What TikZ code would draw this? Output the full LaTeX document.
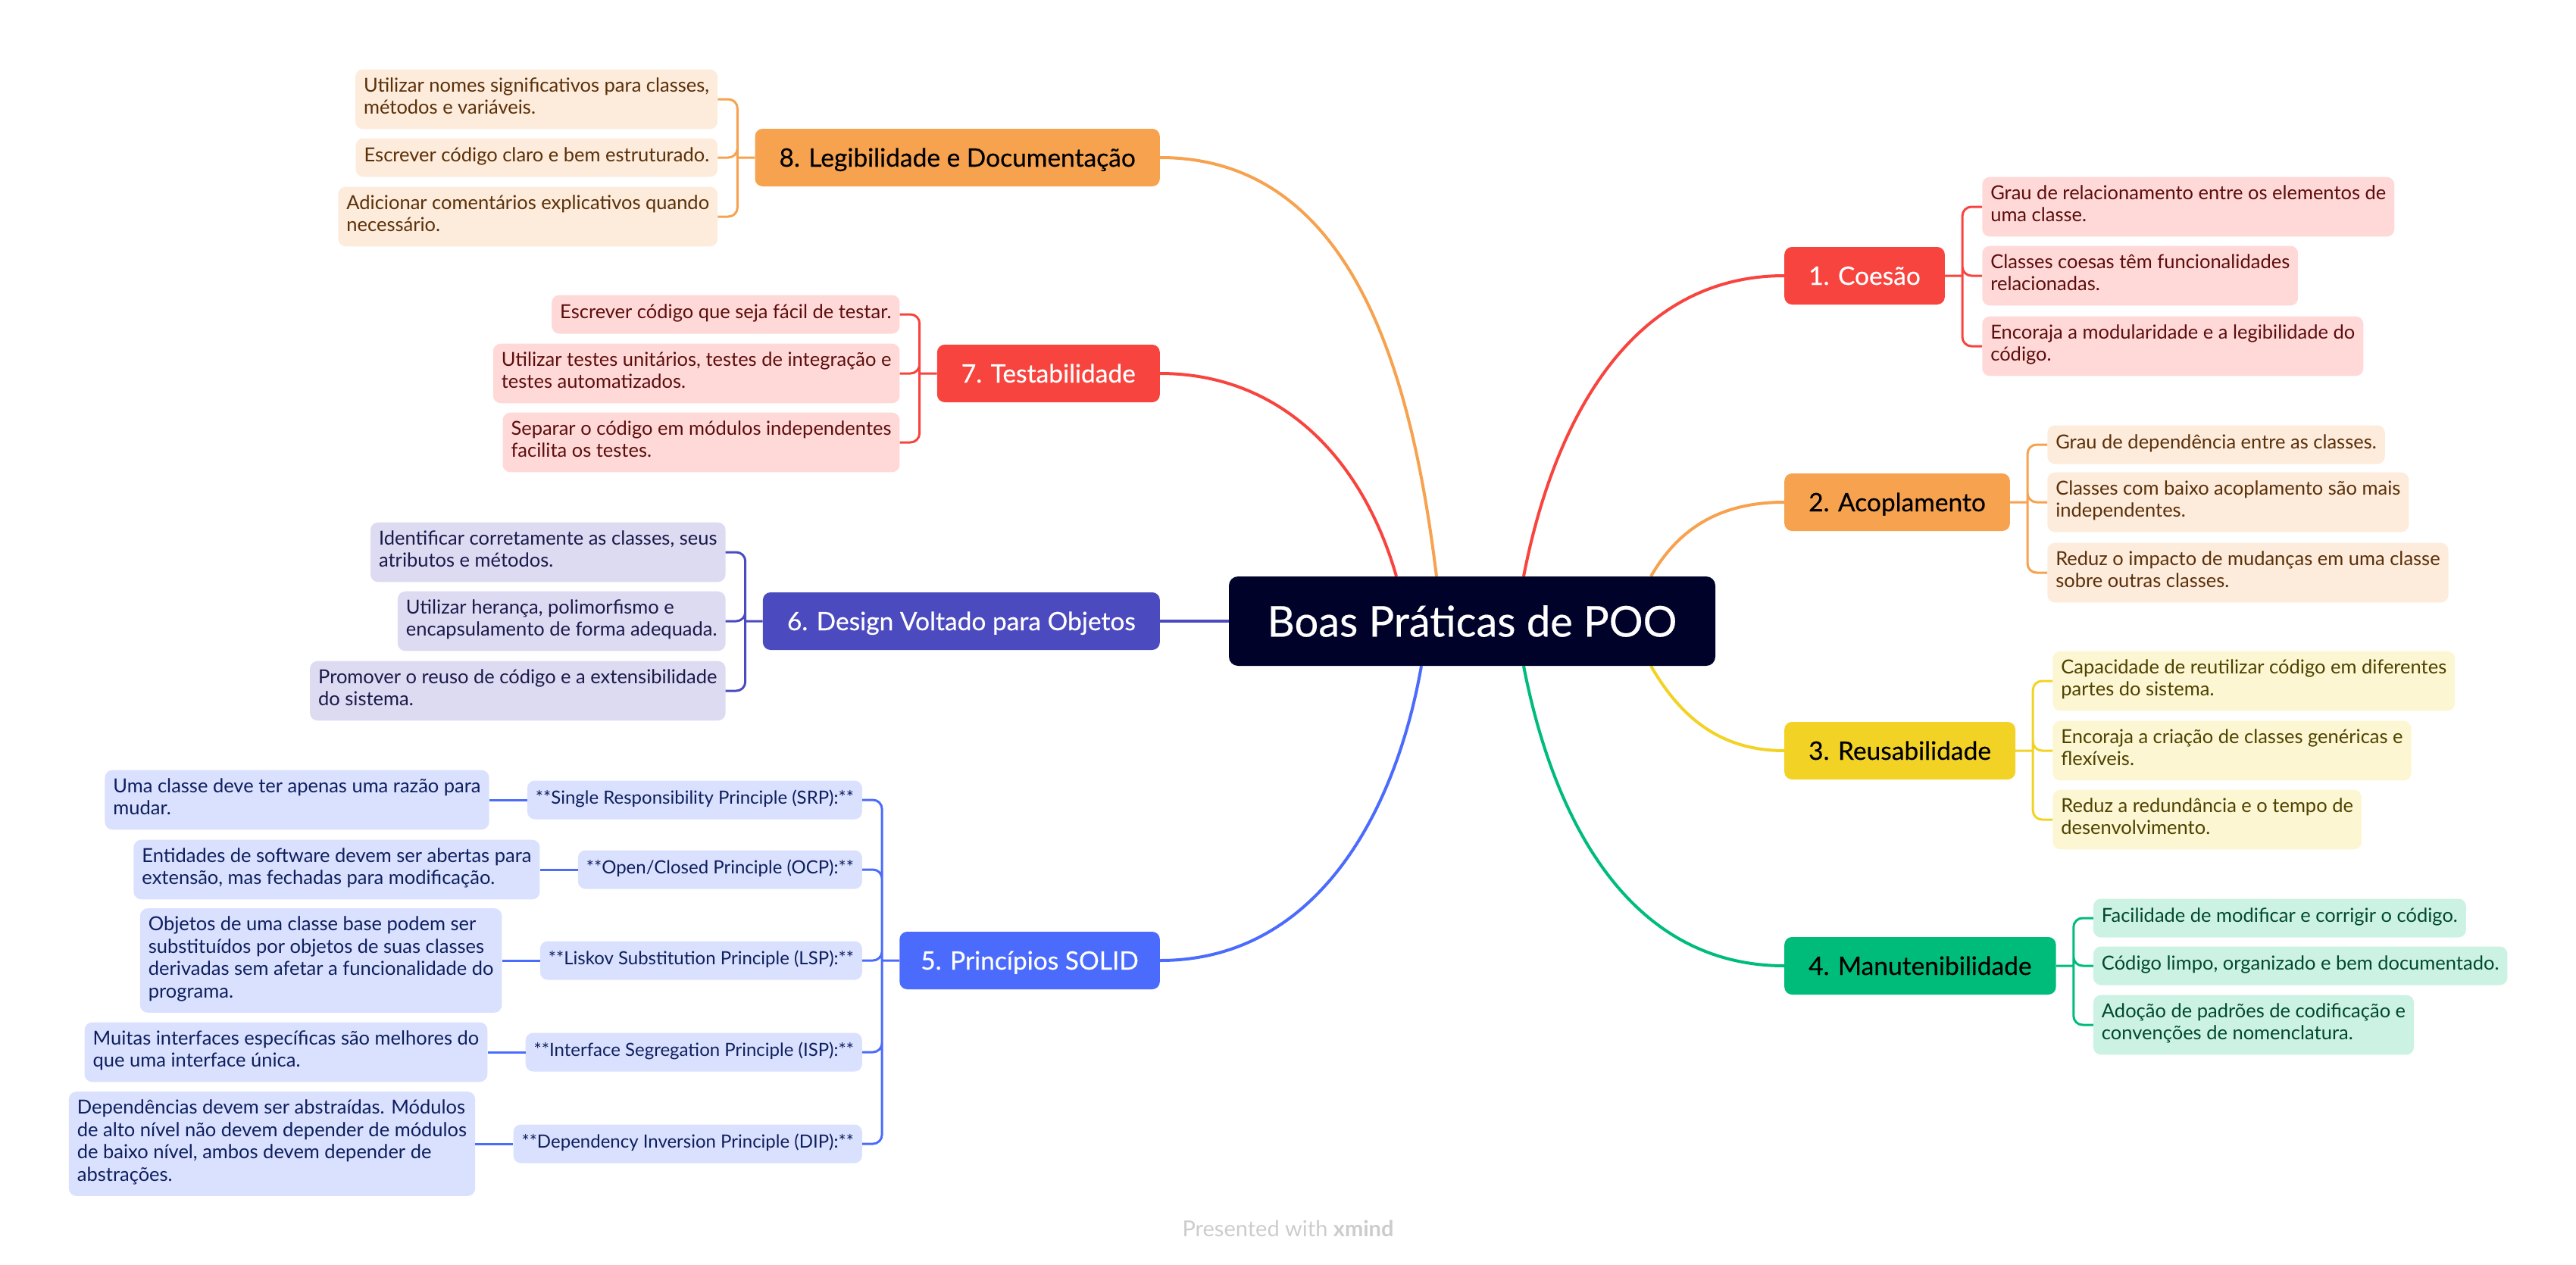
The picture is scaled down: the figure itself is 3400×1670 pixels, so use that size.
\documentclass[tikz,border=0pt]{standalone}
\usepackage{fontspec}
\setmainfont{Lato}
\newfontfamily\heavyfont{Lato}[FakeBold=0.35]
\usetikzlibrary{positioning,backgrounds}

\definecolor{rootnavy}{HTML}{00022A}
\definecolor{mmred}{HTML}{F8443E}
\definecolor{mmorange}{HTML}{F6A24F}
\definecolor{mmyellow}{HTML}{F2D325}
\definecolor{mmgreen}{HTML}{00BC7B}
\definecolor{mmblue}{HTML}{4B6BFD}
\definecolor{mmpurple}{HTML}{4C4ABF}
\definecolor{redfill}{HTML}{FFD9D8}
\definecolor{redink}{HTML}{5C0D0D}
\definecolor{orangefill}{HTML}{FDEBDB}
\definecolor{orangeink}{HTML}{5A3009}
\definecolor{yellowfill}{HTML}{FDF6D2}
\definecolor{yellowink}{HTML}{4D4200}
\definecolor{greenfill}{HTML}{CCF2E4}
\definecolor{greenink}{HTML}{00492F}
\definecolor{bluefill}{HTML}{D9E1FE}
\definecolor{blueink}{HTML}{0F1F5E}
\definecolor{purplefill}{HTML}{DCDBF2}
\definecolor{purpleink}{HTML}{1C1A4A}
\definecolor{footgrey}{HTML}{CCCCCC}

\tikzset{
  root/.style={fill=rootnavy, text=white, rounded corners=12pt, inner sep=0pt,
    minimum width=642pt, minimum height=118pt, font=\heavyfont\fontsize{56}{64}\selectfont},
  topic/.style={fill=#1, rounded corners=10pt, minimum height=76pt, inner xsep=32pt,
    inner ysep=0pt, font=\heavyfont\fontsize{33.5}{40}\selectfont,
    execute at begin node={\rule[-7pt]{0pt}{38pt}}},
  leaf/.style 2 args={fill=#1, text=#2, rounded corners=10pt, align=left,
    inner xsep=11pt, inner ysep=10.75pt, font=\fontsize{25.5}{29.5}\selectfont,
    execute at begin node=\strut, execute at end node=\strut},
  principle/.style={leaf={bluefill}{blueink}, font=\fontsize{24}{29.5}\selectfont},
  branch/.style={line width=4pt},
  brace/.style={line width=3pt, rounded corners=12pt},
}

\begin{document}
\begin{tikzpicture}[x=1pt, y=1pt]
\useasboundingbox (0,0) rectangle (3400,-1670);

\node[root] (root) at (1943,-820) {Boas Práticas de POO};

% 1. Coesao
\node[topic=mmred, text=white, anchor=west] (c1) at (2355,-364) {1. Coesão};
\node[leaf={redfill}{redink}, right=49pt of c1, yshift=91pt] (c1-1) {Grau de relacionamento entre os elementos de\\uma classe.};
\node[leaf={redfill}{redink}, right=49pt of c1] (c1-2) {Classes coesas têm funcionalidades\\relacionadas.};
\node[leaf={redfill}{redink}, right=49pt of c1, yshift=-93pt] (c1-3) {Encoraja a modularidade e a legibilidade do\\código.};
\coordinate[right=23pt of c1] (b1);
\draw[brace, mmred] (c1.east) -- (b1) foreach \l in {1,2,3} {(b1) |- (c1-\l.west)};

% 2. Acoplamento
\node[topic=mmorange, text=black, anchor=west] (c2) at (2355,-663) {2. Acoplamento};
\node[leaf={orangefill}{orangeink}, right=49pt of c2, yshift=76pt] (c2-1) {Grau de dependência entre as classes.};
\node[leaf={orangefill}{orangeink}, right=49pt of c2] (c2-2) {Classes com baixo acoplamento são mais\\independentes.};
\node[leaf={orangefill}{orangeink}, right=49pt of c2, yshift=-93pt] (c2-3) {Reduz o impacto de mudanças em uma classe\\sobre outras classes.};
\coordinate[right=23pt of c2] (b2);
\draw[brace, mmorange] (c2.east) -- (b2) foreach \l in {1,2,3} {(b2) |- (c2-\l.west)};

% 3. Reusabilidade
\node[topic=mmyellow, text=black, anchor=west] (c3) at (2355,-991) {3. Reusabilidade};
\node[leaf={yellowfill}{yellowink}, right=49pt of c3, yshift=92pt] (c3-1) {Capacidade de reutilizar código em diferentes\\partes do sistema.};
\node[leaf={yellowfill}{yellowink}, right=49pt of c3] (c3-2) {Encoraja a criação de classes genéricas e\\flexíveis.};
\node[leaf={yellowfill}{yellowink}, right=49pt of c3, yshift=-91pt] (c3-3) {Reduz a redundância e o tempo de\\desenvolvimento.};
\coordinate[right=23pt of c3] (b3);
\draw[brace, mmyellow] (c3.east) -- (b3) foreach \l in {1,2,3} {(b3) |- (c3-\l.west)};

% 4. Manutenibilidade
\node[topic=mmgreen, text=black, anchor=west] (c4) at (2355,-1275) {4. Manutenibilidade};
\node[leaf={greenfill}{greenink}, right=49pt of c4, yshift=63pt] (c4-1) {Facilidade de modificar e corrigir o código.};
\node[leaf={greenfill}{greenink}, right=49pt of c4] (c4-2) {Código limpo, organizado e bem documentado.};
\node[leaf={greenfill}{greenink}, right=49pt of c4, yshift=-78pt] (c4-3) {Adoção de padrões de codificação e\\convenções de nomenclatura.};
\coordinate[right=23pt of c4] (b4);
\draw[brace, mmgreen] (c4.east) -- (b4) foreach \l in {1,2,3} {(b4) |- (c4-\l.west)};

% 5. Principios SOLID
\node[topic=mmblue, text=white, anchor=east, inner xsep=28pt] (c5) at (1531,-1268) {5. Princípios SOLID};
\node[principle, left=49pt of c5, yshift=212pt] (srp) {**Single Responsibility Principle (SRP):**};
\node[principle, left=49pt of c5, yshift=120pt] (ocp) {**Open/Closed Principle (OCP):**};
\node[principle, left=49pt of c5] (lsp) {**Liskov Substitution Principle (LSP):**};
\node[principle, left=49pt of c5, yshift=-121pt] (isp) {**Interface Segregation Principle (ISP):**};
\node[principle, left=49pt of c5, yshift=-242pt] (dip) {**Dependency Inversion Principle (DIP):**};
\node[leaf={bluefill}{blueink}, left=50pt of srp] (srp-x) {Uma classe deve ter apenas uma razão para\\mudar.};
\node[leaf={bluefill}{blueink}, left=50pt of ocp] (ocp-x) {Entidades de software devem ser abertas para\\extensão, mas fechadas para modificação.};
\node[leaf={bluefill}{blueink}, left=50pt of lsp] (lsp-x) {Objetos de uma classe base podem ser\\substituídos por objetos de suas classes\\derivadas sem afetar a funcionalidade do\\programa.};
\node[leaf={bluefill}{blueink}, left=50pt of isp] (isp-x) {Muitas interfaces específicas são melhores do\\que uma interface única.};
\node[leaf={bluefill}{blueink}, left=50pt of dip] (dip-x) {Dependências devem ser abstraídas. Módulos\\de alto nível não devem depender de módulos\\de baixo nível, ambos devem depender de\\abstrações.};
\coordinate[left=23pt of c5] (b5);
\draw[brace, mmblue] (c5.west) -- (b5) foreach \p in {srp,ocp,lsp,isp,dip} {(b5) |- (\p.east)};
\draw[brace, mmblue] foreach \p in {srp,ocp,lsp,isp,dip} {(\p.west) -- (\p-x.east)};

% 6. Design Voltado para Objetos
\node[topic=mmpurple, text=white, anchor=east] (c6) at (1531,-820) {6. Design Voltado para Objetos};
\node[leaf={purplefill}{purpleink}, left=49pt of c6, yshift=91pt] (c6-1) {Identificar corretamente as classes, seus\\atributos e métodos.};
\node[leaf={purplefill}{purpleink}, left=49pt of c6] (c6-2) {Utilizar herança, polimorfismo e\\encapsulamento de forma adequada.};
\node[leaf={purplefill}{purpleink}, left=49pt of c6, yshift=-92pt] (c6-3) {Promover o reuso de código e a extensibilidade\\do sistema.};
\coordinate[left=23pt of c6] (b6);
\draw[brace, mmpurple] (c6.west) -- (b6) foreach \l in {1,2,3} {(b6) |- (c6-\l.east)};

% 7. Testabilidade
\node[topic=mmred, text=white, anchor=east] (c7) at (1531,-493) {7. Testabilidade};
\node[leaf={redfill}{redink}, left=49pt of c7, yshift=78pt] (c7-1) {Escrever código que seja fácil de testar.};
\node[leaf={redfill}{redink}, left=49pt of c7] (c7-2) {Utilizar testes unitários, testes de integração e\\testes automatizados.};
\node[leaf={redfill}{redink}, left=49pt of c7, yshift=-91pt] (c7-3) {Separar o código em módulos independentes\\facilita os testes.};
\coordinate[left=23pt of c7] (b7);
\draw[brace, mmred] (c7.west) -- (b7) foreach \l in {1,2,3} {(b7) |- (c7-\l.east)};

% 8. Legibilidade e Documentacao
\node[topic=mmorange, text=black, anchor=east] (c8) at (1531,-208) {8. Legibilidade e Documentação};
\node[leaf={orangefill}{orangeink}, left=49pt of c8, yshift=77pt] (c8-1) {Utilizar nomes significativos para classes,\\métodos e variáveis.};
\node[leaf={orangefill}{orangeink}, left=49pt of c8] (c8-2) {Escrever código claro e bem estruturado.};
\node[leaf={orangefill}{orangeink}, left=49pt of c8, yshift=-78pt] (c8-3) {Adicionar comentários explicativos quando\\necessário.};
\coordinate[left=23pt of c8] (b8);
\draw[brace, mmorange] (c8.west) -- (b8) foreach \l in {1,2,3} {(b8) |- (c8-\l.east)};

\begin{scope}[on background layer]
\draw[branch, mmred] ([xshift=68pt]root.north) to[out=79, in=180] (c1.west);
\draw[branch, mmorange] ([xshift=236pt]root.north) to[out=60, in=180] (c2.west);
\draw[branch, mmyellow] ([xshift=236pt]root.south) to[out=-60, in=180] (c3.west);
\draw[branch, mmgreen] ([xshift=68pt]root.south) to[out=-79, in=180] (c4.west);
\draw[branch, mmblue] ([xshift=-67pt]root.south) to[out=-100, in=0] (c5.east);
\draw[branch, mmpurple] (root.west) -- (c6.east);
\draw[branch, mmred] ([xshift=-100pt]root.north) to[out=106, in=0] (c7.east);
\draw[branch, mmorange] ([xshift=-47pt]root.north) to[out=97, in=0] (c8.east);
\end{scope}

\node[font=\fontsize{29}{34}\selectfont, text=footgrey] (credit) at (1700,-1622) {Presented with \textbf{xmind}};
\end{tikzpicture}
\end{document}
